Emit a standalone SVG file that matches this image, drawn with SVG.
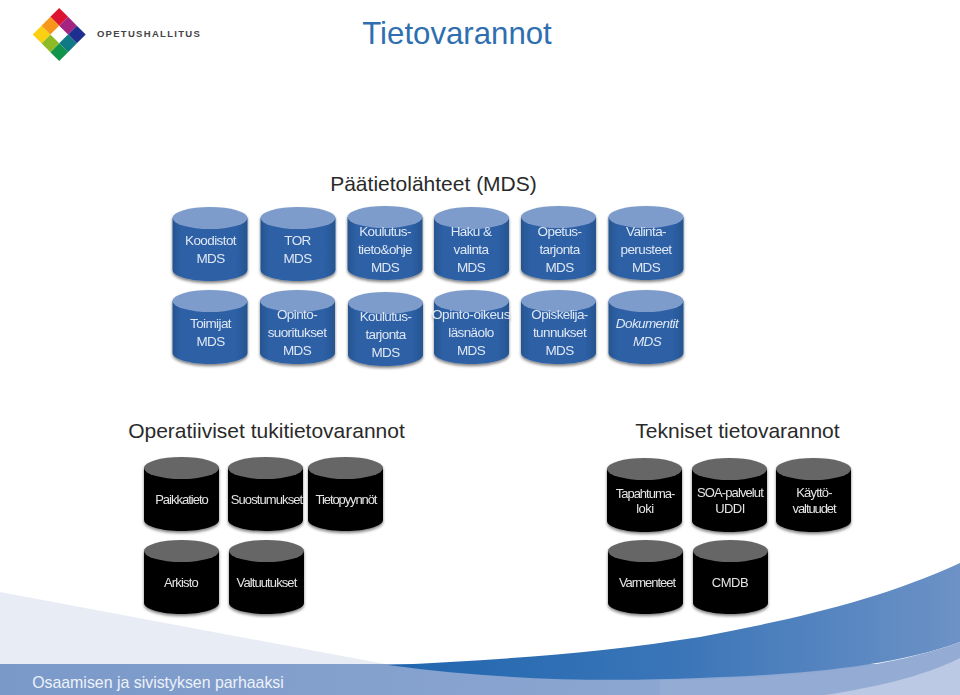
<svg xmlns="http://www.w3.org/2000/svg" width="960" height="695" viewBox="0 0 960 695">
<style>
text{font-family:"Liberation Sans",Arial,sans-serif;text-anchor:middle}
.lbl{font-size:13.5px;letter-spacing:-0.6px}
.b{fill:#dfe7f3}
.k{fill:#e4e4e4;font-size:13px}
.h{font-size:21px;fill:#2a2a2a}
</style>
<defs>
<filter id="sh" x="-15%" y="-15%" width="130%" height="130%"><feGaussianBlur in="SourceAlpha" stdDeviation="1.4"/><feOffset dy="1.5"/><feComponentTransfer><feFuncA type="linear" slope="0.5"/></feComponentTransfer><feMerge><feMergeNode/><feMergeNode in="SourceGraphic"/></feMerge></filter>
<linearGradient id="bl" x1="0" x2="1" y1="0" y2="0"><stop offset="0" stop-color="#27558f"/><stop offset="0.12" stop-color="#2d60a6"/><stop offset="0.85" stop-color="#2d60a6"/><stop offset="1" stop-color="#265590"/></linearGradient>
<linearGradient id="band" gradientUnits="userSpaceOnUse" x1="390" x2="960" y1="0" y2="0"><stop offset="0" stop-color="#2166ae"/><stop offset="0.5" stop-color="#3a75b8"/><stop offset="1" stop-color="#6d92c6"/></linearGradient>
<linearGradient id="foot" gradientUnits="userSpaceOnUse" x1="0" x2="960" y1="0" y2="0"><stop offset="0" stop-color="#7a99c9"/><stop offset="1" stop-color="#94acd4"/></linearGradient>
<g id="cb"><path d="M0 11V63C0 69 17 74 37.500 74S75 69 75 63V11Z" fill="url(#bl)"/><ellipse cx="37.500" cy="11" rx="37.500" ry="11" fill="#7d9ccb"/></g>
<g id="ck"><path d="M0 11V63C0 69 17 74 37.500 74S75 69 75 63V11Z" fill="#000"/><ellipse cx="37.500" cy="11" rx="37.500" ry="11" fill="#666"/></g>
</defs>
<rect width="960" height="695" fill="#fff"/>
<g id="background">
<path d="M0 592L385 664H0Z" fill="#e8ecf5"/>
<rect y="664" width="960" height="31" fill="url(#foot)"/>
<path d="M388 665C500 660 600 653 700 637C790 620 880 600 960 563V642C890 668 790 675 700 678C600 682 500 680 388 665Z" fill="url(#band)"/>
<path d="M660 680C760 680 880 672 960 642V695H660Z" fill="#94acd4"/>
<path d="M825 695C870 688 920 678 960 658V695Z" fill="#bcc9e4"/>
</g>
<g id="logo">
<g transform="translate(59.200 34.500) rotate(45)">
<rect x="-18.750" y="-18.750" width="12.500" height="12.500" fill="#dc1430"/>
<rect x="-6.250" y="-18.750" width="12.500" height="12.500" fill="#a5247f"/>
<rect x="6.250" y="-18.750" width="12.500" height="12.500" fill="#1e2f90"/>
<rect x="6.250" y="-6.250" width="12.500" height="12.500" fill="#0f7a86"/>
<rect x="6.250" y="6.250" width="12.500" height="12.500" fill="#12934a"/>
<rect x="-6.250" y="6.250" width="12.500" height="12.500" fill="#8cbb25"/>
<rect x="-18.750" y="6.250" width="12.500" height="12.500" fill="#fbd012"/>
<rect x="-18.750" y="-6.250" width="12.500" height="12.500" fill="#f6971b"/>
</g>
<text x="149" y="36.500" style="font-size:9.500px;letter-spacing:1.300px;fill:#444;font-weight:bold">OPETUSHALLITUS</text>
</g>
<text id="title" x="457" y="44" style="font-size:31.200px;fill:#2f6fb0">Tietovarannot</text>
<text id="h1" x="433.500" y="191" class="h">Päätietolähteet (MDS)</text>
<text id="h2" x="266.500" y="438" class="h">Operatiiviset tukitietovarannot</text>
<text id="h3" x="737.500" y="438" class="h">Tekniset tietovarannot</text>

<g id="n-koodistot" filter="url(#sh)"><use href="#cb" x="172.500" y="207"/><text class="lbl b" x="210.500" y="245">Koodistot</text><text class="lbl b" x="210.500" y="263">MDS</text></g>
<g id="n-tor" filter="url(#sh)"><use href="#cb" x="260.500" y="207"/><text class="lbl b" x="297.500" y="245">TOR</text><text class="lbl b" x="297.500" y="263">MDS</text></g>
<g id="n-koulutustieto" filter="url(#sh)"><use href="#cb" x="347.500" y="206"/><text class="lbl b" x="385" y="236">Koulutus-</text><text class="lbl b" x="385" y="254">tieto&amp;ohje</text><text class="lbl b" x="385" y="272">MDS</text></g>
<g id="n-haku" filter="url(#sh)"><use href="#cb" x="434" y="207"/><text class="lbl b" x="471" y="236">Haku &amp;</text><text class="lbl b" x="471" y="254">valinta</text><text class="lbl b" x="471" y="272">MDS</text></g>
<g id="n-opetus" filter="url(#sh)"><use href="#cb" x="521" y="206"/><text class="lbl b" x="559.500" y="236">Opetus-</text><text class="lbl b" x="559.500" y="254">tarjonta</text><text class="lbl b" x="559.500" y="272">MDS</text></g>
<g id="n-valinta" filter="url(#sh)"><use href="#cb" x="608.500" y="206"/><text class="lbl b" x="646" y="236">Valinta-</text><text class="lbl b" x="646" y="254">perusteet</text><text class="lbl b" x="646" y="272">MDS</text></g>

<g id="n-toimijat" filter="url(#sh)"><use href="#cb" x="172.500" y="290"/><text class="lbl b" x="210.500" y="328">Toimijat</text><text class="lbl b" x="210.500" y="346">MDS</text></g>
<g id="n-opintosuoritukset" filter="url(#sh)"><use href="#cb" x="260" y="290"/><text class="lbl b" x="297" y="319">Opinto-</text><text class="lbl b" x="297" y="337">suoritukset</text><text class="lbl b" x="297" y="355">MDS</text></g>
<g id="n-koulutustarjonta" filter="url(#sh)"><use href="#cb" x="348" y="292"/><text class="lbl b" x="385.500" y="321">Koulutus-</text><text class="lbl b" x="385.500" y="339">tarjonta</text><text class="lbl b" x="385.500" y="357">MDS</text></g>
<g id="n-opintooikeus" filter="url(#sh)"><use href="#cb" x="434" y="290"/><text class="lbl b" x="471" y="319" style="letter-spacing:-0.400px">Opinto-oikeus</text><text class="lbl b" x="471" y="337">läsnäolo</text><text class="lbl b" x="471" y="355">MDS</text></g>
<g id="n-opiskelija" filter="url(#sh)"><use href="#cb" x="521" y="290"/><text class="lbl b" x="559.500" y="319">Opiskelija-</text><text class="lbl b" x="559.500" y="337">tunnukset</text><text class="lbl b" x="559.500" y="355">MDS</text></g>
<g id="n-dokumentit" filter="url(#sh)"><use href="#cb" x="608.500" y="290"/><text class="lbl b" x="647" y="328" font-style="italic">Dokumentit</text><text class="lbl b" x="647" y="346" font-style="italic">MDS</text></g>

<g id="n-paikkatieto" filter="url(#sh)"><use href="#ck" x="144" y="457"/><text class="k" x="181.500" y="504" style="letter-spacing:-1px">Paikkatieto</text></g>
<g id="n-suostumukset" filter="url(#sh)"><use href="#ck" x="228" y="457"/><text class="k" x="266.500" y="504" style="letter-spacing:-0.900px">Suostumukset</text></g>
<g id="n-tietopyynnot" filter="url(#sh)"><use href="#ck" x="308" y="457"/><text class="k" x="346" y="504" style="letter-spacing:-1.100px">Tietopyynnöt</text></g>
<g id="n-arkisto" filter="url(#sh)"><use href="#ck" x="144" y="540"/><text class="k" x="181" y="587" style="letter-spacing:-0.800px">Arkisto</text></g>
<g id="n-valtuutukset" filter="url(#sh)"><use href="#ck" x="229" y="540"/><text class="k" x="266.500" y="587" style="letter-spacing:-0.900px">Valtuutukset</text></g>

<g id="n-tapahtumaloki" filter="url(#sh)"><use href="#ck" x="607" y="458"/><text class="k" x="645" y="498" style="letter-spacing:-1px">Tapahtuma-</text><text class="k" x="645" y="513" style="letter-spacing:-0.500px">loki</text></g>
<g id="n-soa" filter="url(#sh)"><use href="#ck" x="692" y="458"/><text class="k" x="730" y="497" style="letter-spacing:-0.900px">SOA-palvelut</text><text class="k" x="730" y="513" style="letter-spacing:-0.600px">UDDI</text></g>
<g id="n-kaytto" filter="url(#sh)"><use href="#ck" x="776" y="458"/><text class="k" x="814" y="497" style="letter-spacing:-0.800px">Käyttö-</text><text class="k" x="814" y="513" style="letter-spacing:-1.100px">valtuudet</text></g>
<g id="n-varmenteet" filter="url(#sh)"><use href="#ck" x="608" y="540"/><text class="k" x="647" y="587" style="letter-spacing:-1px">Varmenteet</text></g>
<g id="n-cmdb" filter="url(#sh)"><use href="#ck" x="693" y="540"/><text class="k" x="730" y="587" style="letter-spacing:-0.500px">CMDB</text></g>
<text id="footer" x="158" y="687.500" style="font-size:15.900px;fill:#eef2f9">Osaamisen ja sivistyksen parhaaksi</text>
</svg>
